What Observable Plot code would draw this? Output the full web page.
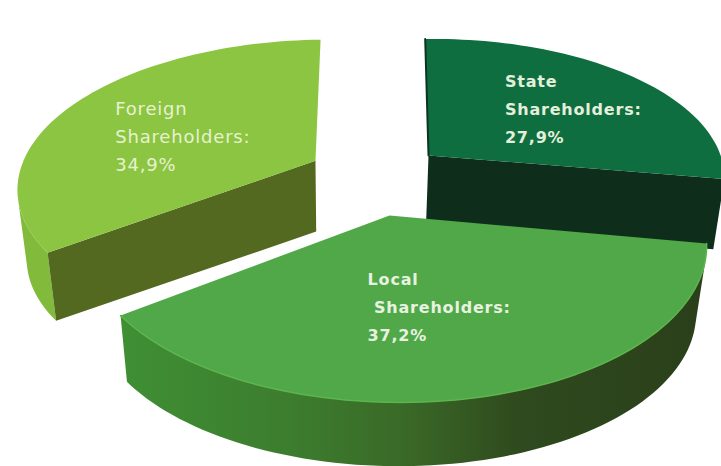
<!DOCTYPE html>
<html>
<head>
<meta charset="utf-8">
<script src="https://cdn.jsdelivr.net/npm/d3@7"></script>
<script src="https://cdn.jsdelivr.net/npm/@observablehq/plot@0.6"></script>
<style>
  html, body { margin: 0; padding: 0; background: #fff; }
  svg { display: block; }
  #chart text { letter-spacing: 0.8px; }
</style>
</head>
<body>
<div id="chart"></div>
<script>
// Ownership split, clockwise from twelve o'clock.
const holders = ["State", "Local", "Foreign"];
const shares = [27.9, 37.2, 34.9];

const topColors = ["#0f6e40", "#50a848", "#8cc541"];
const faceColors = ["#0e2e1b", null, "#53691f"];
const rimColors = ["#0e2e1b", "url(#near-wall)", "#82ba3b"];

const width = 721, height = 466;

// How far each wedge is pulled out of the pie, in units of its radius.
const pullX = [0.145, 0, -0.25];
const pullZ = [0.413, 0, 0.38];
const radius = [1, 1, 1.04];
const lean = [0.03, 0, 0];

// Perspective view of the pie's top plane (X to the right, Z away from the viewer).
function view(X, Z) {
  const w = 1 - 0.0149 * X + 0.172 * Z;
  return [389 + (306.5 * X - 6.62 * Z) / w, 215 + (-1.32 * X - 154.8 * Z) / w];
}
// The same point on the pie's underside, slightly nearer the vanishing point.
function lower([x, y]) {
  return [x + (340 - x) * 0.029, y + (2600 - y) * 0.029];
}

const arcs = d3.pie().sort(null).startAngle(0).endAngle(2 * Math.PI)(shares);
const onSlice = (i, a, r) => view(
  pullX[i] + r * radius[i] * (Math.sin(a) + lean[i] * Math.cos(a)),
  pullZ[i] + r * radius[i] * Math.cos(a)
);
const sweep = (i, step = 0.03) => d3.range(arcs[i].startAngle, arcs[i].endAngle, step).concat(arcs[i].endAngle);

const polygons = [];
let nextId = 0;
function addPolygon(points, color) {
  const id = nextId++;
  for (const [x, y] of points) polygons.push({id, x, y, color});
}

// A rim point shows its wall when the drop to the underside leaves the top surface.
function wallFacesViewer(i, a) {
  const p = onSlice(i, a, 1), q = onSlice(i, a + 0.01, 1), e = lower(p);
  return (q[0] - p[0]) * (e[1] - p[1]) - (q[1] - p[1]) * (e[0] - p[0]) < 0;
}

function drawSlice(i, faceEdge) {
  const angles = sweep(i);
  // curved outer wall
  const rimPoints = angles.filter((a) => wallFacesViewer(i, a)).map((a) => onSlice(i, a, 1));
  addPolygon([...rimPoints, ...rimPoints.map(lower).reverse()], rimColors[i]);
  // flat cut face running from the centre out to the rim
  const apex = onSlice(i, 0, 0);
  if (faceColors[i]) {
    const corner = onSlice(i, faceEdge, 1);
    addPolygon([apex, corner, lower(corner), lower(apex)], faceColors[i]);
  }
  // top surface
  addPolygon([apex, ...angles.map((a) => onSlice(i, a, 1))], topColors[i]);
}

drawSlice(2, arcs[2].startAngle);
drawSlice(0, arcs[0].endAngle);
drawSlice(1, arcs[1].startAngle);

// Dark sliver on the State wedge's left cut and the light rim of the near wedge.
const sliver = [onSlice(0, 0, 0), onSlice(0, 0, 1)].map(([x, y]) => ({x, y}));
const rim = sweep(1).map((a) => onSlice(1, a, 1)).map(([x, y]) => ({x, y}));

// Horizontal shading of the near wedge's wall, darkening towards the right.
function wallShade() {
  const defs = d3.create("svg:defs");
  const gradient = defs.append("linearGradient")
    .attr("id", "near-wall")
    .attr("gradientUnits", "objectBoundingBox");
  const stops = [[0, "#3f8f34"], [0.3, "#3c7c2e"], [0.48, "#3a6a27"], [0.68, "#2f4a1e"], [1, "#2a3f1a"]];
  for (const [offset, color] of stops) {
    gradient.append("stop").attr("offset", offset).attr("stop-color", color);
  }
  return defs.node();
}

const format = (v) => v.toFixed(1).replace(".", ",") + "%";
const indent = ["", "\u00a0", ""];
const labels = holders.map((name, i) => {
  const [x, y] = onSlice(i, (arcs[i].startAngle + arcs[i].endAngle) / 2, 0.5);
  return {x, y, text: `${name}\n${indent[i]}Shareholders:\n${format(shares[i])}`, i};
});
const nudgeX = [-28, -62, -75];
const nudgeY = [-7, 6.5, 3];
const labelColor = ["#e4efdc", "#e8f2e0", "#e6f2cf"];
const labelSize = [16, 16, 18];
const labelWeight = ["bold", "bold", "normal"];

const plot = Plot.plot({
  width, height,
  margin: 0,
  x: {domain: [0, width], range: [0, width], axis: null},
  y: {domain: [0, height], range: [0, height], axis: null},
  color: {type: "identity"},
  marks: [
    wallShade,
    Plot.line(polygons, {x: "x", y: "y", z: "id", fill: "color", strokeWidth: 0}),
    Plot.line(sliver, {x: "x", y: "y", stroke: "#0a3520", strokeWidth: 2}),
    Plot.line(rim, {x: "x", y: "y", stroke: "#5cb54d", strokeWidth: 1.5}),
    ...labels.map((d) => Plot.text([d], {
      x: "x", y: "y", text: "text",
      dx: nudgeX[d.i], dy: nudgeY[d.i],
      textAnchor: "start", lineHeight: 28 / labelSize[d.i],
      fontFamily: "DejaVu Sans", fontSize: labelSize[d.i], fontWeight: labelWeight[d.i],
      fill: labelColor[d.i]
    }))
  ]
});
document.getElementById("chart").appendChild(plot);
</script>
</body>
</html>
